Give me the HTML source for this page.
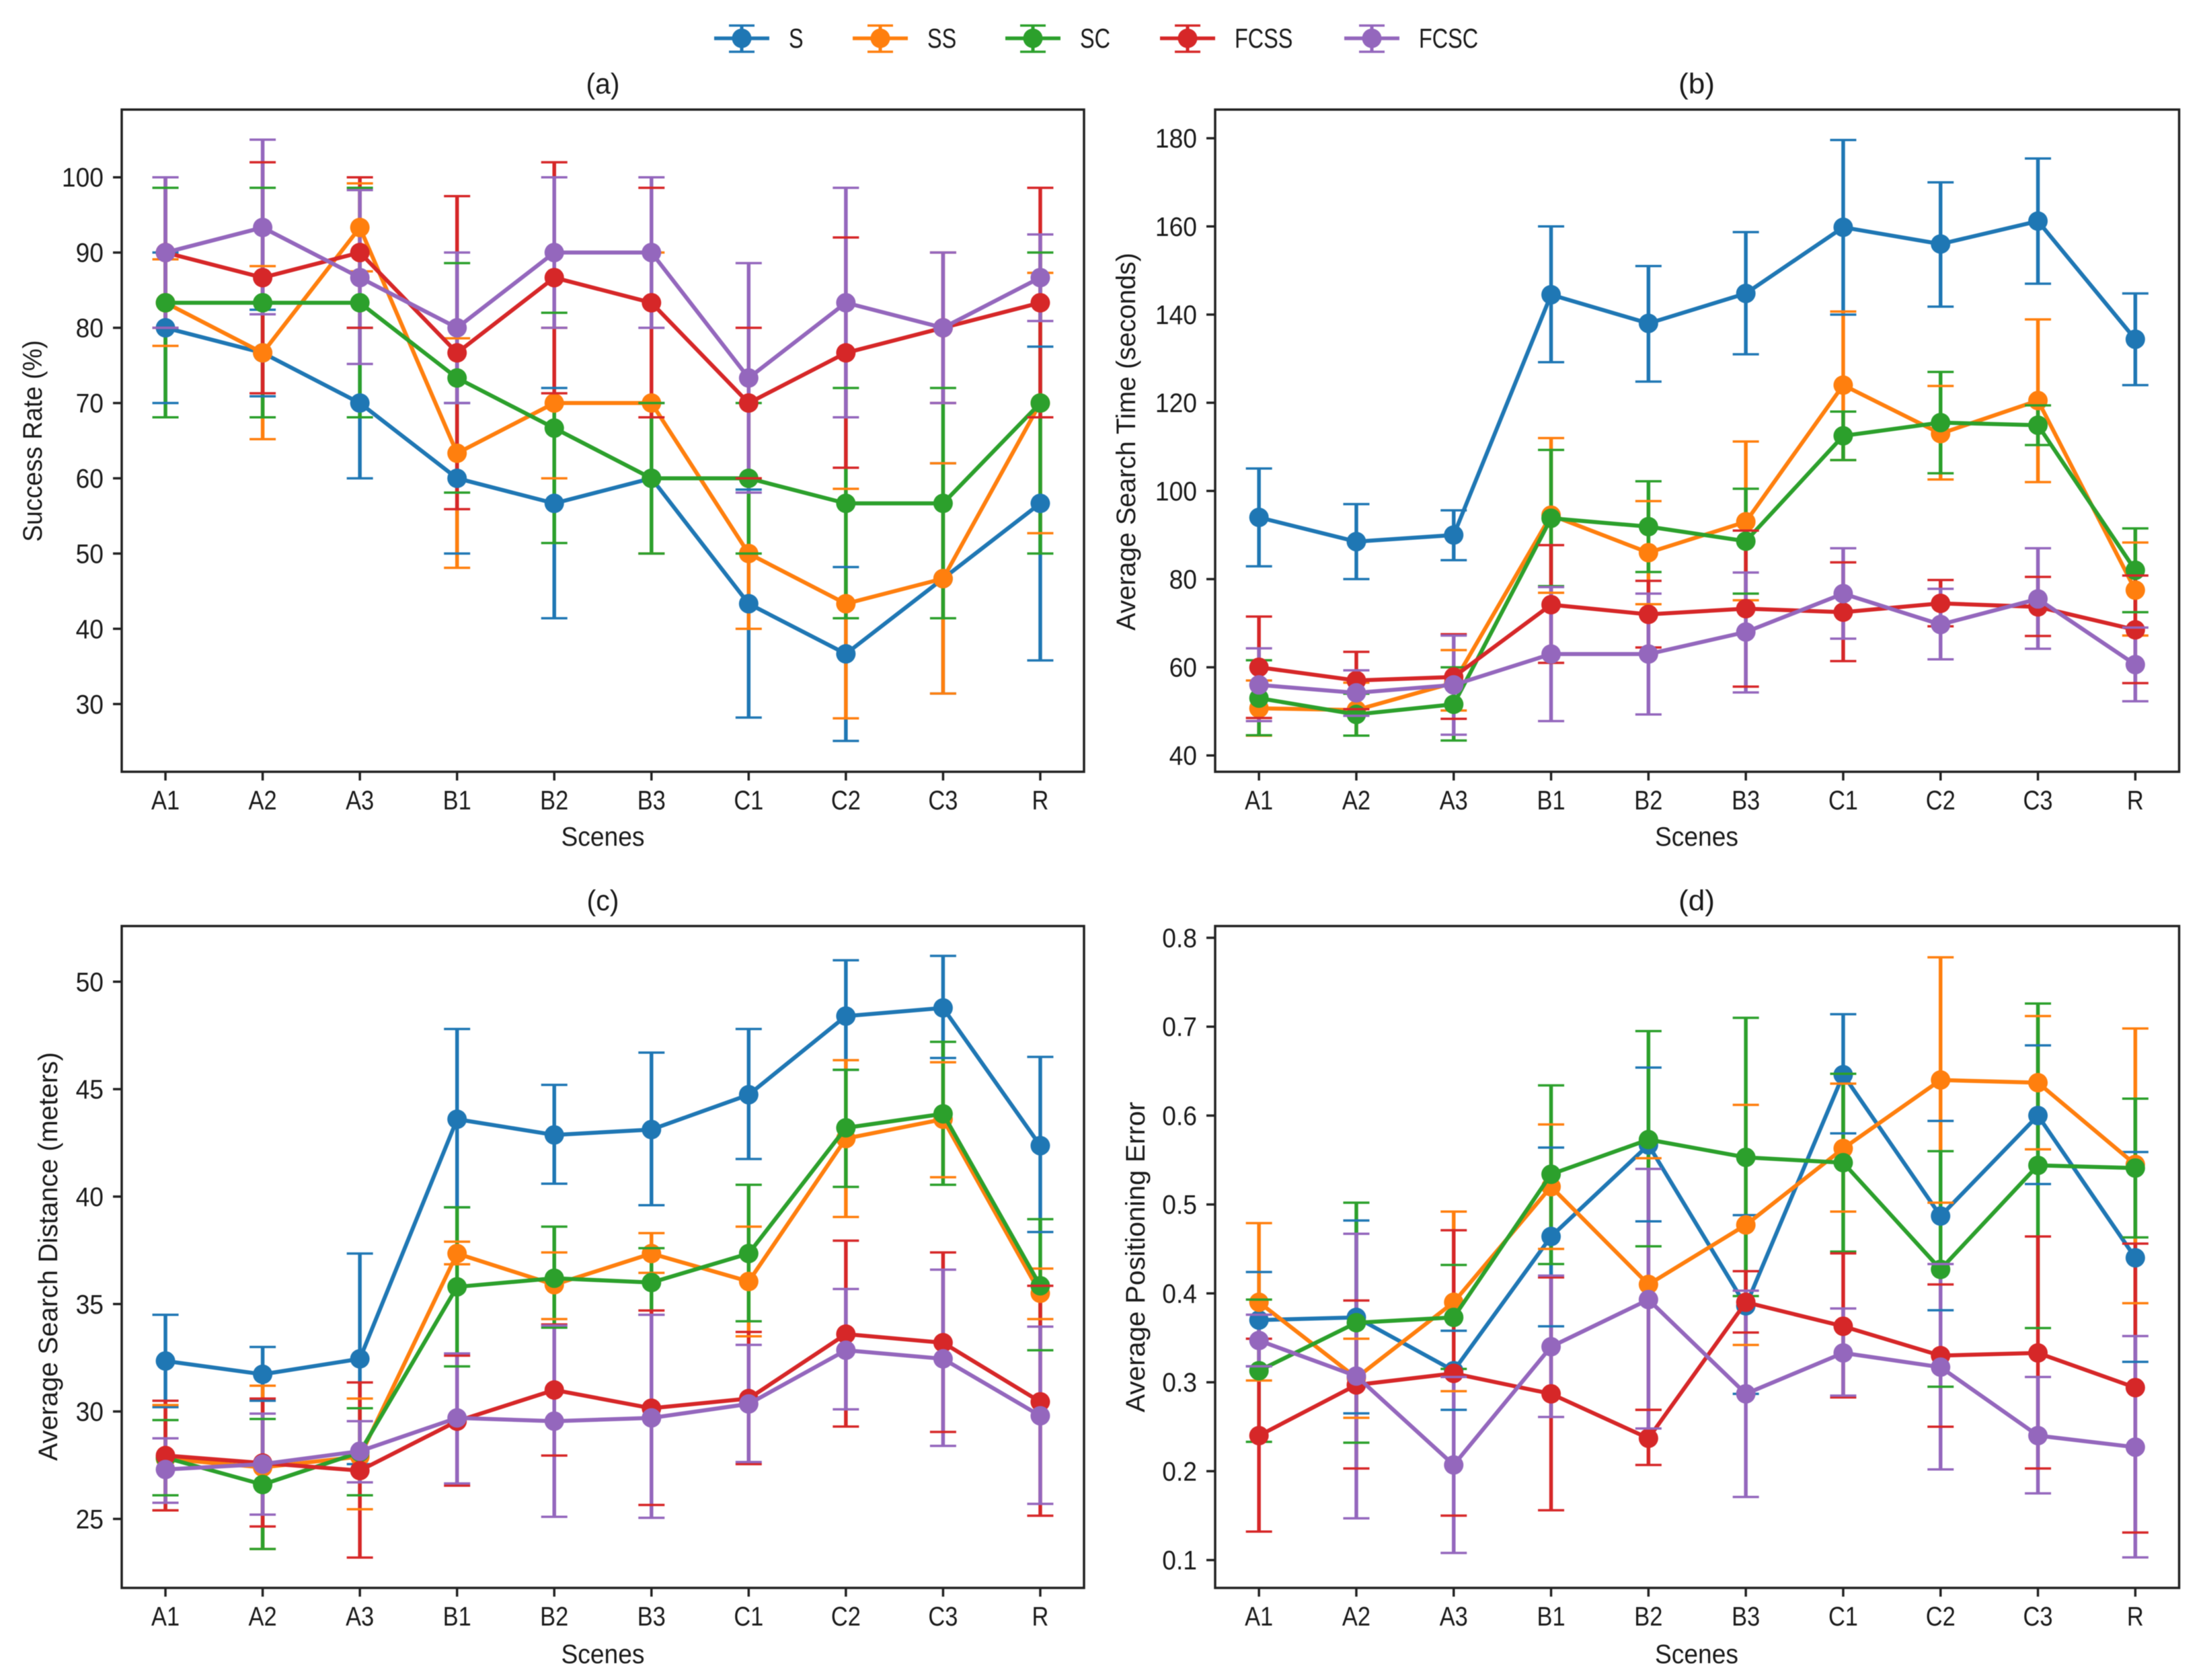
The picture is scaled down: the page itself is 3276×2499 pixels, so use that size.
<!DOCTYPE html>
<html lang="en">
<head>
<meta charset="utf-8">
<title>Scene metrics by condition</title>
<style>
html,body{margin:0;padding:0;background:#fff;}
svg{display:block;filter:blur(0.6px);}
text{font-family:"Liberation Sans",sans-serif;fill:#1a1a1a;}
</style>
</head>
<body>
<svg id="figure" xmlns="http://www.w3.org/2000/svg" width="3276" height="2499" viewBox="0 0 3276 2499">
  <rect x="0" y="0" width="3276" height="2499" fill="#ffffff"/>
  <g id="legend"></g>
  <g id="panel-a">
    <text x="896.5" y="139" font-size="43" text-anchor="middle" textLength="50" lengthAdjust="spacingAndGlyphs">(a)</text>
    <text x="896.5" y="1258" font-size="40" text-anchor="middle" textLength="124" lengthAdjust="spacingAndGlyphs">Scenes</text>
    <text x="0" y="0" font-size="40" text-anchor="middle" textLength="300" lengthAdjust="spacingAndGlyphs" transform="translate(62 656) rotate(-90)">Success Rate (%)</text>
  </g>
  <g id="panel-b">
    <text x="2523" y="139" font-size="43" text-anchor="middle" textLength="54" lengthAdjust="spacingAndGlyphs">(b)</text>
    <text x="2523" y="1258" font-size="40" text-anchor="middle" textLength="124" lengthAdjust="spacingAndGlyphs">Scenes</text>
    <text x="0" y="0" font-size="40" text-anchor="middle" textLength="562" lengthAdjust="spacingAndGlyphs" transform="translate(1688 657) rotate(-90)">Average Search Time (seconds)</text>
  </g>
  <g id="panel-c">
    <text x="896.5" y="1354" font-size="43" text-anchor="middle" textLength="48" lengthAdjust="spacingAndGlyphs">(c)</text>
    <text x="896.5" y="2474" font-size="40" text-anchor="middle" textLength="124" lengthAdjust="spacingAndGlyphs">Scenes</text>
    <text x="0" y="0" font-size="40" text-anchor="middle" textLength="608" lengthAdjust="spacingAndGlyphs" transform="translate(85 1869) rotate(-90)">Average Search Distance (meters)</text>
  </g>
  <g id="panel-d">
    <text x="2523" y="1354" font-size="43" text-anchor="middle" textLength="54" lengthAdjust="spacingAndGlyphs">(d)</text>
    <text x="2523" y="2474" font-size="40" text-anchor="middle" textLength="124" lengthAdjust="spacingAndGlyphs">Scenes</text>
    <text x="0" y="0" font-size="40" text-anchor="middle" textLength="462" lengthAdjust="spacingAndGlyphs" transform="translate(1702 1870) rotate(-90)">Average Positioning Error</text>
  </g>
</svg>
<script>
var categories = ["A1","A2","A3","B1","B2","B3","C1","C2","C3","R"];
var seriesNames = ["S","SS","SC","FCSS","FCSC"];
var seriesColors = ["#1f77b4","#ff7f0e","#2ca02c","#d62728","#9467bd"];

var ticksA = [30,40,50,60,70,80,90,100];
var ticksB = [40,60,80,100,120,140,160,180];
var ticksC = [25,30,35,40,45,50];
var ticksD = [0.1,0.2,0.3,0.4,0.5,0.6,0.7,0.8];

var meanA_S = [80,76.67,70,60,56.67,60,43.33,36.67,46.67,56.67];
var lowA_S = [70,70.9,60,50,41.4,50,28.2,25.1,31.4,35.8];
var highA_S = [90,82.4,80,70,72,70,58.5,48.2,62,77.5];
var meanA_SS = [83.33,76.67,93.33,63.33,70,70,50,43.33,46.67,70];
var lowA_SS = [77.6,65.2,87.5,48.1,60,50,40,28.1,31.4,52.7];
var highA_SS = [89.1,88.2,99.2,78.6,80,90,60,58.6,62,87.3];
var meanA_SC = [83.33,83.33,83.33,73.33,66.67,60,60,56.67,56.67,70];
var lowA_SC = [68.1,68.1,68.1,58.1,51.4,50,50,41.4,41.4,50];
var highA_SC = [98.6,98.6,98.6,88.6,82,70,70,72,72,90];
var meanA_FCSS = [90,86.67,90,76.67,86.67,83.33,70,76.67,80,83.33];
var lowA_FCSS = [80,71.3,80,55.9,71.3,68.1,60,61.4,70,68.1];
var highA_FCSS = [100,102,100,97.5,102,98.6,80,92,90,98.6];
var meanA_FCSC = [90,93.33,86.67,80,90,90,73.33,83.33,80,86.67];
var lowA_FCSC = [80,81.8,75.2,70,80,80,58.1,68.1,70,80.9];
var highA_FCSC = [100,105,98.3,90,100,100,88.6,98.6,90,92.4];

var meanB_S = [94,88.5,90,144.5,138,144.8,159.8,156,161.2,134.4];
var lowB_S = [82.9,80,84.3,129.2,124.8,131,140,141.8,147,124];
var highB_S = [105.1,97,95.6,160,151,158.7,179.6,170,175.4,144.8];
var meanB_SS = [50.7,50.3,56.5,94.5,86,93,124,113,120.5,77.5];
var lowB_SS = [44.5,44.5,50.2,76.9,74.3,75.2,107,102.6,102,67.2];
var highB_SS = [57,56.5,63.9,112,97.7,111.2,140.7,123.8,138.9,88.3];
var meanB_SC = [53,49.3,51.6,93.8,91.9,88.6,112.5,115.5,114.9,82];
var lowB_SC = [44.6,44.5,43.4,78.4,81.6,76.7,107,104,110.4,72.5];
var highB_SC = [61.6,54,60,109.3,102.2,100.5,118,127,119.4,91.5];
var meanB_FCSS = [60,57,57.8,74.2,72,73.3,72.5,74.5,73.7,68.5];
var lowB_FCSS = [48.5,50.5,48.3,61,64.5,55.6,61.4,69.3,67.1,56.4];
var highB_FCSS = [71.5,63.5,67.5,87.7,79.6,91,83.8,79.8,80.5,80.8];
var meanB_FCSC = [56,54.2,56,63,63,68,76.7,69.7,75.5,60.6];
var lowB_FCSC = [47.8,49,44.7,47.8,49.3,54.3,66.5,61.8,64.2,52.3];
var highB_FCSC = [64.3,59.3,67.2,78.2,76.7,81.5,87,77.8,87,69];

var meanC_S = [32.35,31.73,32.45,43.6,42.87,43.12,44.74,48.4,48.78,42.37];
var lowC_S = [30.2,30.5,27.55,39.5,40.6,39.6,41.75,45.9,46.45,38.35];
var highC_S = [34.5,33,37.35,47.8,45.2,46.7,47.8,51,51.2,46.5];
var meanC_SS = [27.8,27.4,27.9,37.35,35.9,37.35,36.05,42.7,43.6,35.5];
var lowC_SS = [25.4,23.6,25.45,36.85,34.3,36.45,33.5,39.05,40.9,34.3];
var highC_SS = [30.3,31.2,30.6,37.9,37.4,38.3,38.6,46.35,46.25,36.65];
var meanC_SC = [27.85,26.6,28.1,35.8,36.2,36,37.35,43.2,43.85,35.85];
var lowC_SC = [26.1,23.6,26.1,32.1,33.9,34.5,34.2,40.45,40.55,32.85];
var highC_SC = [29.6,29.65,30.15,39.5,38.6,37.6,40.55,45.9,47.2,38.95];
var meanC_FCSS = [27.95,27.6,27.25,29.55,31,30.15,30.6,33.6,33.2,30.45];
var lowC_FCSS = [25.4,24.65,23.2,26.55,27.95,25.65,27.55,29.3,29.05,25.15];
var highC_FCSS = [30.5,30.6,31.35,32.6,34.05,34.7,33.7,37.95,37.4,35.85];
var meanC_FCSC = [27.3,27.55,28.15,29.7,29.55,29.7,30.35,32.85,32.45,29.8];
var lowC_FCSC = [25.75,25.2,26.7,26.65,25.1,25.05,27.65,30.1,28.4,25.7];
var highC_FCSC = [28.75,29.9,29.55,32.7,34,34.5,33.1,35.7,36.6,33.95];

var meanD_S = [0.37,0.373,0.313,0.464,0.567,0.386,0.646,0.487,0.6,0.44];
var lowD_S = [0.318,0.265,0.269,0.363,0.481,0.287,0.58,0.381,0.523,0.323];
var highD_S = [0.424,0.482,0.358,0.564,0.654,0.488,0.714,0.594,0.679,0.559];
var meanD_SS = [0.39,0.305,0.39,0.52,0.41,0.477,0.563,0.64,0.637,0.545];
var lowD_SS = [0.302,0.26,0.29,0.45,0.269,0.342,0.492,0.502,0.562,0.389];
var highD_SS = [0.479,0.349,0.492,0.59,0.552,0.612,0.636,0.778,0.712,0.698];
var meanD_SC = [0.313,0.367,0.373,0.534,0.573,0.553,0.547,0.427,0.544,0.541];
var lowD_SC = [0.233,0.232,0.315,0.433,0.453,0.397,0.447,0.295,0.361,0.463];
var highD_SC = [0.393,0.502,0.432,0.634,0.695,0.71,0.647,0.56,0.726,0.619];
var meanD_FCSS = [0.24,0.297,0.31,0.287,0.237,0.39,0.363,0.33,0.333,0.294];
var lowD_FCSS = [0.132,0.203,0.15,0.156,0.207,0.356,0.283,0.25,0.203,0.131];
var highD_FCSS = [0.349,0.392,0.471,0.418,0.269,0.425,0.445,0.41,0.464,0.456];
var meanD_FCSC = [0.347,0.307,0.207,0.34,0.393,0.287,0.333,0.317,0.24,0.227];
var lowD_FCSC = [0.318,0.147,0.108,0.261,0.248,0.171,0.285,0.202,0.175,0.103];
var highD_FCSC = [0.376,0.467,0.306,0.42,0.54,0.403,0.383,0.433,0.306,0.352];

var NS = "http://www.w3.org/2000/svg";

function make(tag, props, parent) {
  var el = document.createElementNS(NS, tag);
  for (var k in props) { el.setAttribute(k, props[k]); }
  parent.appendChild(el);
  return el;
}

function linearAxis(d0, d1, r0, r1) {
  return function (v) { return r0 + (v - d0) * (r1 - r0) / (d1 - d0); };
}

function squeeze(el, factor) {
  var natural = el.getComputedTextLength();
  el.setAttribute("lengthAdjust", "spacingAndGlyphs");
  el.setAttribute("textLength", natural * factor);
}

function drawPanel(id, box, yDomain, yTicks, decimals, means, lows, highs) {
  var root = document.getElementById(id);
  var x = linearAxis(-0.45, 9.45, box.left, box.right);
  var y = linearAxis(yDomain[0], yDomain[1], box.bottom, box.top);

  seriesNames.forEach(function (name, s) {
    var barGroup = make("g", {}, root);
    
    
    categories.forEach(function (cat, i) {
      var bar = make("line", {x1: x(i), x2: x(i), y1: y(lows[s][i]), y2: y(highs[s][i]), stroke: seriesColors[s], "stroke-width": 5.5}, barGroup);
      
      
    });
  });

  seriesNames.forEach(function (name, s) {
    var color = seriesColors[s];
    var g = make("g", {}, root);
    
    

    var pts = means[s].map(function (v, i) { return x(i) + "," + y(v); }).join(" ");
    var line = make("polyline", {points: pts, fill: "none", stroke: color, "stroke-width": 6, "stroke-linejoin": "round"}, g);
    
    

    means[s].forEach(function (v, i) {
      var dot = make("circle", {cx: x(i), cy: y(v), r: 14.5, fill: color}, g);
      
      
    });

    categories.forEach(function (cat, i) {
      [lows[s][i], highs[s][i]].forEach(function (v) {
        var cap = make("line", {x1: x(i) - 19.5, x2: x(i) + 19.5, y1: y(v), y2: y(v), stroke: color, "stroke-width": 3.5}, g);
        
        
      });
    });
  });

  var frame = make("rect", {x: box.left, y: box.top, width: box.right - box.left, height: box.bottom - box.top, fill: "none", stroke: "#222222", "stroke-width": 3.5}, root);
  
  

  categories.forEach(function (cat, i) {
    var tick = make("line", {x1: x(i), x2: x(i), y1: box.bottom, y2: box.bottom + 13, stroke: "#222222", "stroke-width": 3.5}, root);
    
    
    var label = make("text", {x: x(i), y: box.bottom + 56, "font-size": 40, "text-anchor": "middle"}, root);
    
    
    label.textContent = cat;
    squeeze(label, 0.86);
  });

  yTicks.forEach(function (v) {
    var tick = make("line", {x1: box.left - 13, x2: box.left, y1: y(v), y2: y(v), stroke: "#222222", "stroke-width": 3.5}, root);
    
    
    var label = make("text", {x: box.left - 27, y: y(v) + 14, "font-size": 40, "text-anchor": "end"}, root);
    
    
    label.textContent = v.toFixed(decimals);
    squeeze(label, 0.93);
  });
}

function drawLegend() {
  var root = document.getElementById("legend");
  var handleCenters = [1103, 1309, 1536, 1766, 2040];
  seriesNames.forEach(function (name, s) {
    var cx = handleCenters[s], color = seriesColors[s];
    var g = make("g", {}, root);
    
    
    make("line", {x1: cx - 41, x2: cx + 41, y1: 57, y2: 57, stroke: color, "stroke-width": 5.5}, g);
    make("line", {x1: cx, x2: cx, y1: 38, y2: 77, stroke: color, "stroke-width": 5}, g);
    make("line", {x1: cx - 19, x2: cx + 19, y1: 38, y2: 38, stroke: color, "stroke-width": 3.5}, g);
    make("line", {x1: cx - 19, x2: cx + 19, y1: 77, y2: 77, stroke: color, "stroke-width": 3.5}, g);
    make("circle", {cx: cx, cy: 57, r: 14.5, fill: color}, g);
    var t = make("text", {x: cx + 70, y: 71, "font-size": 41}, g);
    
    
    t.textContent = name;
    squeeze(t, 0.79);
  });
}

drawLegend();
drawPanel("panel-a", {left: 181, right: 1612, top: 163, bottom: 1148}, [21.0, 109.0], ticksA, 0,
  [meanA_S, meanA_SS, meanA_SC, meanA_FCSS, meanA_FCSC],
  [lowA_S, lowA_SS, lowA_SC, lowA_FCSS, lowA_FCSC],
  [highA_S, highA_SS, highA_SC, highA_FCSS, highA_FCSC]);
drawPanel("panel-b", {left: 1807, right: 3240.5, top: 163, bottom: 1148}, [36.3, 186.5], ticksB, 0,
  [meanB_S, meanB_SS, meanB_SC, meanB_FCSS, meanB_FCSC],
  [lowB_S, lowB_SS, lowB_SC, lowB_FCSS, lowB_FCSC],
  [highB_S, highB_SS, highB_SC, highB_FCSS, highB_FCSC]);
drawPanel("panel-c", {left: 181, right: 1612, top: 1377.5, bottom: 2362}, [21.79, 52.59], ticksC, 0,
  [meanC_S, meanC_SS, meanC_SC, meanC_FCSS, meanC_FCSC],
  [lowC_S, lowC_SS, lowC_SC, lowC_FCSS, lowC_FCSC],
  [highC_S, highC_SS, highC_SC, highC_FCSS, highC_FCSC]);
drawPanel("panel-d", {left: 1807, right: 3240.5, top: 1377.5, bottom: 2362}, [0.0687, 0.8132], ticksD, 1,
  [meanD_S, meanD_SS, meanD_SC, meanD_FCSS, meanD_FCSC],
  [lowD_S, lowD_SS, lowD_SC, lowD_FCSS, lowD_FCSC],
  [highD_S, highD_SS, highD_SC, highD_FCSS, highD_FCSC]);
</script>
</body>
</html>
